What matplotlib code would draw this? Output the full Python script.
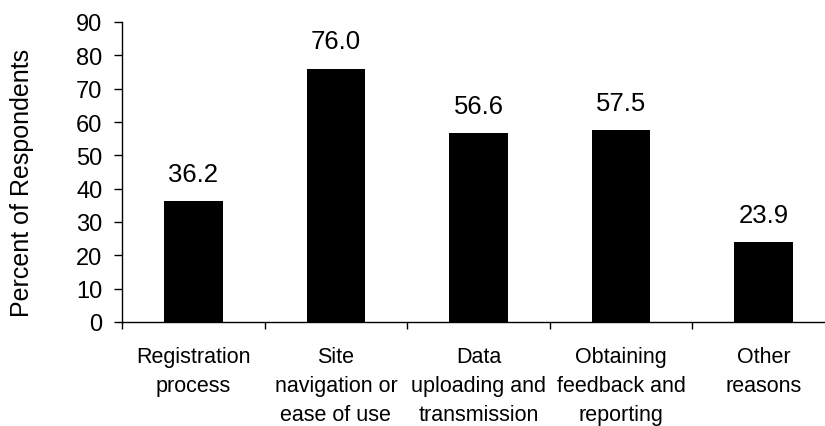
import matplotlib
matplotlib.use("Agg")
import matplotlib.pyplot as plt
from matplotlib.ticker import FixedLocator

plt.rcParams['font.family'] = ['Liberation Sans', 'DejaVu Sans']

categories = ["Registration\nprocess",
              "Site\nnavigation or\nease of use",
              "Data\nuploading and\ntransmission",
              "Obtaining\nfeedback and\nreporting",
              "Other\nreasons"]
percents = [36.2, 76.0, 56.6, 57.5, 23.9]
yticks = list(range(0, 100, 10))

fig = plt.figure(figsize=(8.25, 4.27), dpi=100)
# axes runs slightly past the right edge, like the original
ax = fig.add_axes([122 / 825, 104 / 427, 713 / 825, 300 / 427])

x = list(range(len(categories)))
bars = ax.bar(x, percents, width=0.41, color="black")

for xi, v in zip(x, percents):
    ax.annotate("%.1f" % v, (xi, v), xytext=(0, 11), textcoords="offset points",
                ha="center", va="bottom", fontsize=18.5)

ax.set_xlim(-0.5, len(categories) - 0.5)
ax.set_ylim(0, 90)
ax.set_yticks(yticks)
ax.tick_params(axis="y", direction="out", length=6, width=1, pad=8, labelsize=17)

ax.set_xticks(x)
ax.set_xticklabels(categories, fontsize=15.5, linespacing=1.5)
ax.tick_params(axis="x", which="major", length=0, pad=17)
ax.xaxis.set_minor_locator(FixedLocator([i - 0.5 for i in range(len(categories) + 1)]))
ax.tick_params(axis="x", which="minor", direction="out", length=5, width=1)

for s in ["top", "right"]:
    ax.spines[s].set_visible(False)
ax.spines["left"].set_linewidth(1)
ax.spines["bottom"].set_linewidth(1)

ax.set_ylabel("Percent of Respondents", fontsize=18)
ax.yaxis.set_label_coords(-0.123, 0.468)

fig.savefig("out.png", dpi=100)
